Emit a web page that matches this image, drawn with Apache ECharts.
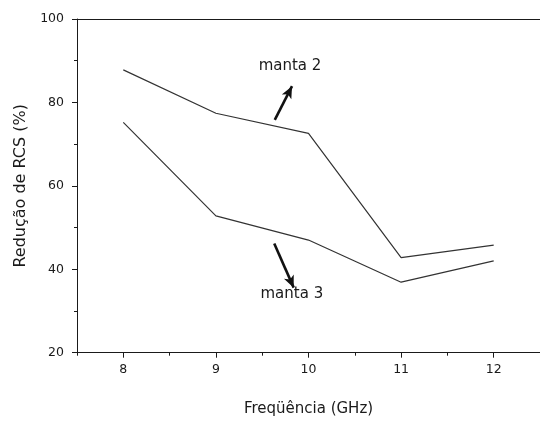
<!DOCTYPE html>
<html>
<head>
<meta charset="utf-8">
<script src="https://cdn.jsdelivr.net/npm/echarts@6/dist/echarts.min.js"></script>
<style>
  html, body { margin: 0; padding: 0; background: #fff; }
  #chart { width: 540px; height: 422px; }
</style>
</head>
<body>
<div id="chart"></div>
<script>
// Frequency points (GHz)
const frequencies = [8, 9, 10, 11, 12];
// RCS reduction (%) for each blanket
const manta2 = [87.8, 77.4, 72.6, 42.8, 45.8];
const manta3 = [75.2, 52.8, 47.0, 36.9, 42.0];
// Axis ticks
const xMajorTicks = [8, 9, 10, 11, 12];
const xMinorTicks = [7.5, 8.5, 9.5, 10.5, 11.5, 12.5];

// Callout labels and their arrows, in data units
const calloutNames = ['manta 2', 'manta 3'];
const calloutText = [[9.80, 88.6], [9.82, 34.0]];
const arrowTail = [[9.636, 75.8], [9.63, 46.2]];
const arrowHead = [[9.822, 83.9], [9.84, 35.6]];

const FONT = '"DejaVu Sans", Verdana, sans-serif';
const INK = '#1a1a1a';
const LINE = '#333';

const pairs = (ys) => frequencies.map((f, i) => [f, ys[i]]);

const chart = echarts.init(document.getElementById('chart'), null, { renderer: 'canvas' });

const arrowMark = (i) => ({
  silent: true, symbol: ['none', 'arrow'], symbolSize: [8, 12],
  label: { show: false },
  lineStyle: { color: '#111', width: 2.6, type: 'solid' },
  data: [[{ coord: arrowTail[i] }, { coord: arrowHead[i] }]]
});

const calloutMark = (i) => ({
  silent: true, symbol: 'circle', symbolSize: 1,
  itemStyle: { color: 'rgba(0,0,0,0)' },
  label: { show: true, position: 'inside', formatter: '{b}', fontFamily: FONT, fontSize: 15, color: INK },
  data: [{ name: calloutNames[i], coord: calloutText[i] }]
});

chart.setOption({
  animation: false,
  backgroundColor: '#fff',
  grid: { left: 77, top: 19, width: 464.5, height: 333.7, show: false },
  xAxis: [
    {
      type: 'value', min: 7.5, max: 12.5, position: 'bottom',
      name: 'Freqüência (GHz)', nameLocation: 'middle', nameGap: 49,
      nameTextStyle: { fontFamily: FONT, fontSize: 15, color: INK },
      axisLine: { show: true, onZero: false, lineStyle: { color: INK, width: 1 } },
      axisTick: { show: true, inside: false, length: 5, customValues: xMajorTicks, lineStyle: { color: INK } },
      axisLabel: { show: true, customValues: xMajorTicks, margin: 11, fontFamily: FONT, fontSize: 12.5, color: INK },
      splitLine: { show: false }
    },
    {
      // half-unit minor ticks along the bottom edge
      type: 'value', min: 7.5, max: 12.5, position: 'bottom', gridIndex: 0,
      axisLine: { show: false },
      axisTick: { show: true, inside: false, length: 3, customValues: xMinorTicks, lineStyle: { color: INK } },
      axisLabel: { show: false },
      splitLine: { show: false }
    },
    {
      // top frame line
      type: 'value', min: 7.5, max: 12.5, position: 'top', gridIndex: 0,
      axisLine: { show: true, onZero: false, lineStyle: { color: INK, width: 1 } },
      axisTick: { show: false },
      axisLabel: { show: false },
      splitLine: { show: false }
    }
  ],
  yAxis: {
    type: 'value', min: 20, max: 100, interval: 20,
    name: 'Redução de RCS (%)', nameLocation: 'middle', nameGap: 48,
    nameTextStyle: { fontFamily: FONT, fontSize: 16, color: INK },
    axisLine: { show: true, lineStyle: { color: INK, width: 1 } },
    axisTick: { show: true, inside: false, length: 5, lineStyle: { color: INK } },
    minorTick: { show: true, splitNumber: 2, length: 3, lineStyle: { color: INK } },
    axisLabel: { margin: 13, fontFamily: FONT, fontSize: 12.5, color: INK },
    splitLine: { show: false }
  },
  series: [
    {
      name: calloutNames[0], type: 'line', data: pairs(manta2),
      showSymbol: false, symbol: 'none',
      lineStyle: { color: LINE, width: 1.2 },
      markLine: arrowMark(0),
      markPoint: calloutMark(0)
    },
    {
      name: calloutNames[1], type: 'line', data: pairs(manta3),
      showSymbol: false, symbol: 'none',
      lineStyle: { color: LINE, width: 1.2 },
      markLine: arrowMark(1),
      markPoint: calloutMark(1)
    }
  ]
});
</script>
</body>
</html>
